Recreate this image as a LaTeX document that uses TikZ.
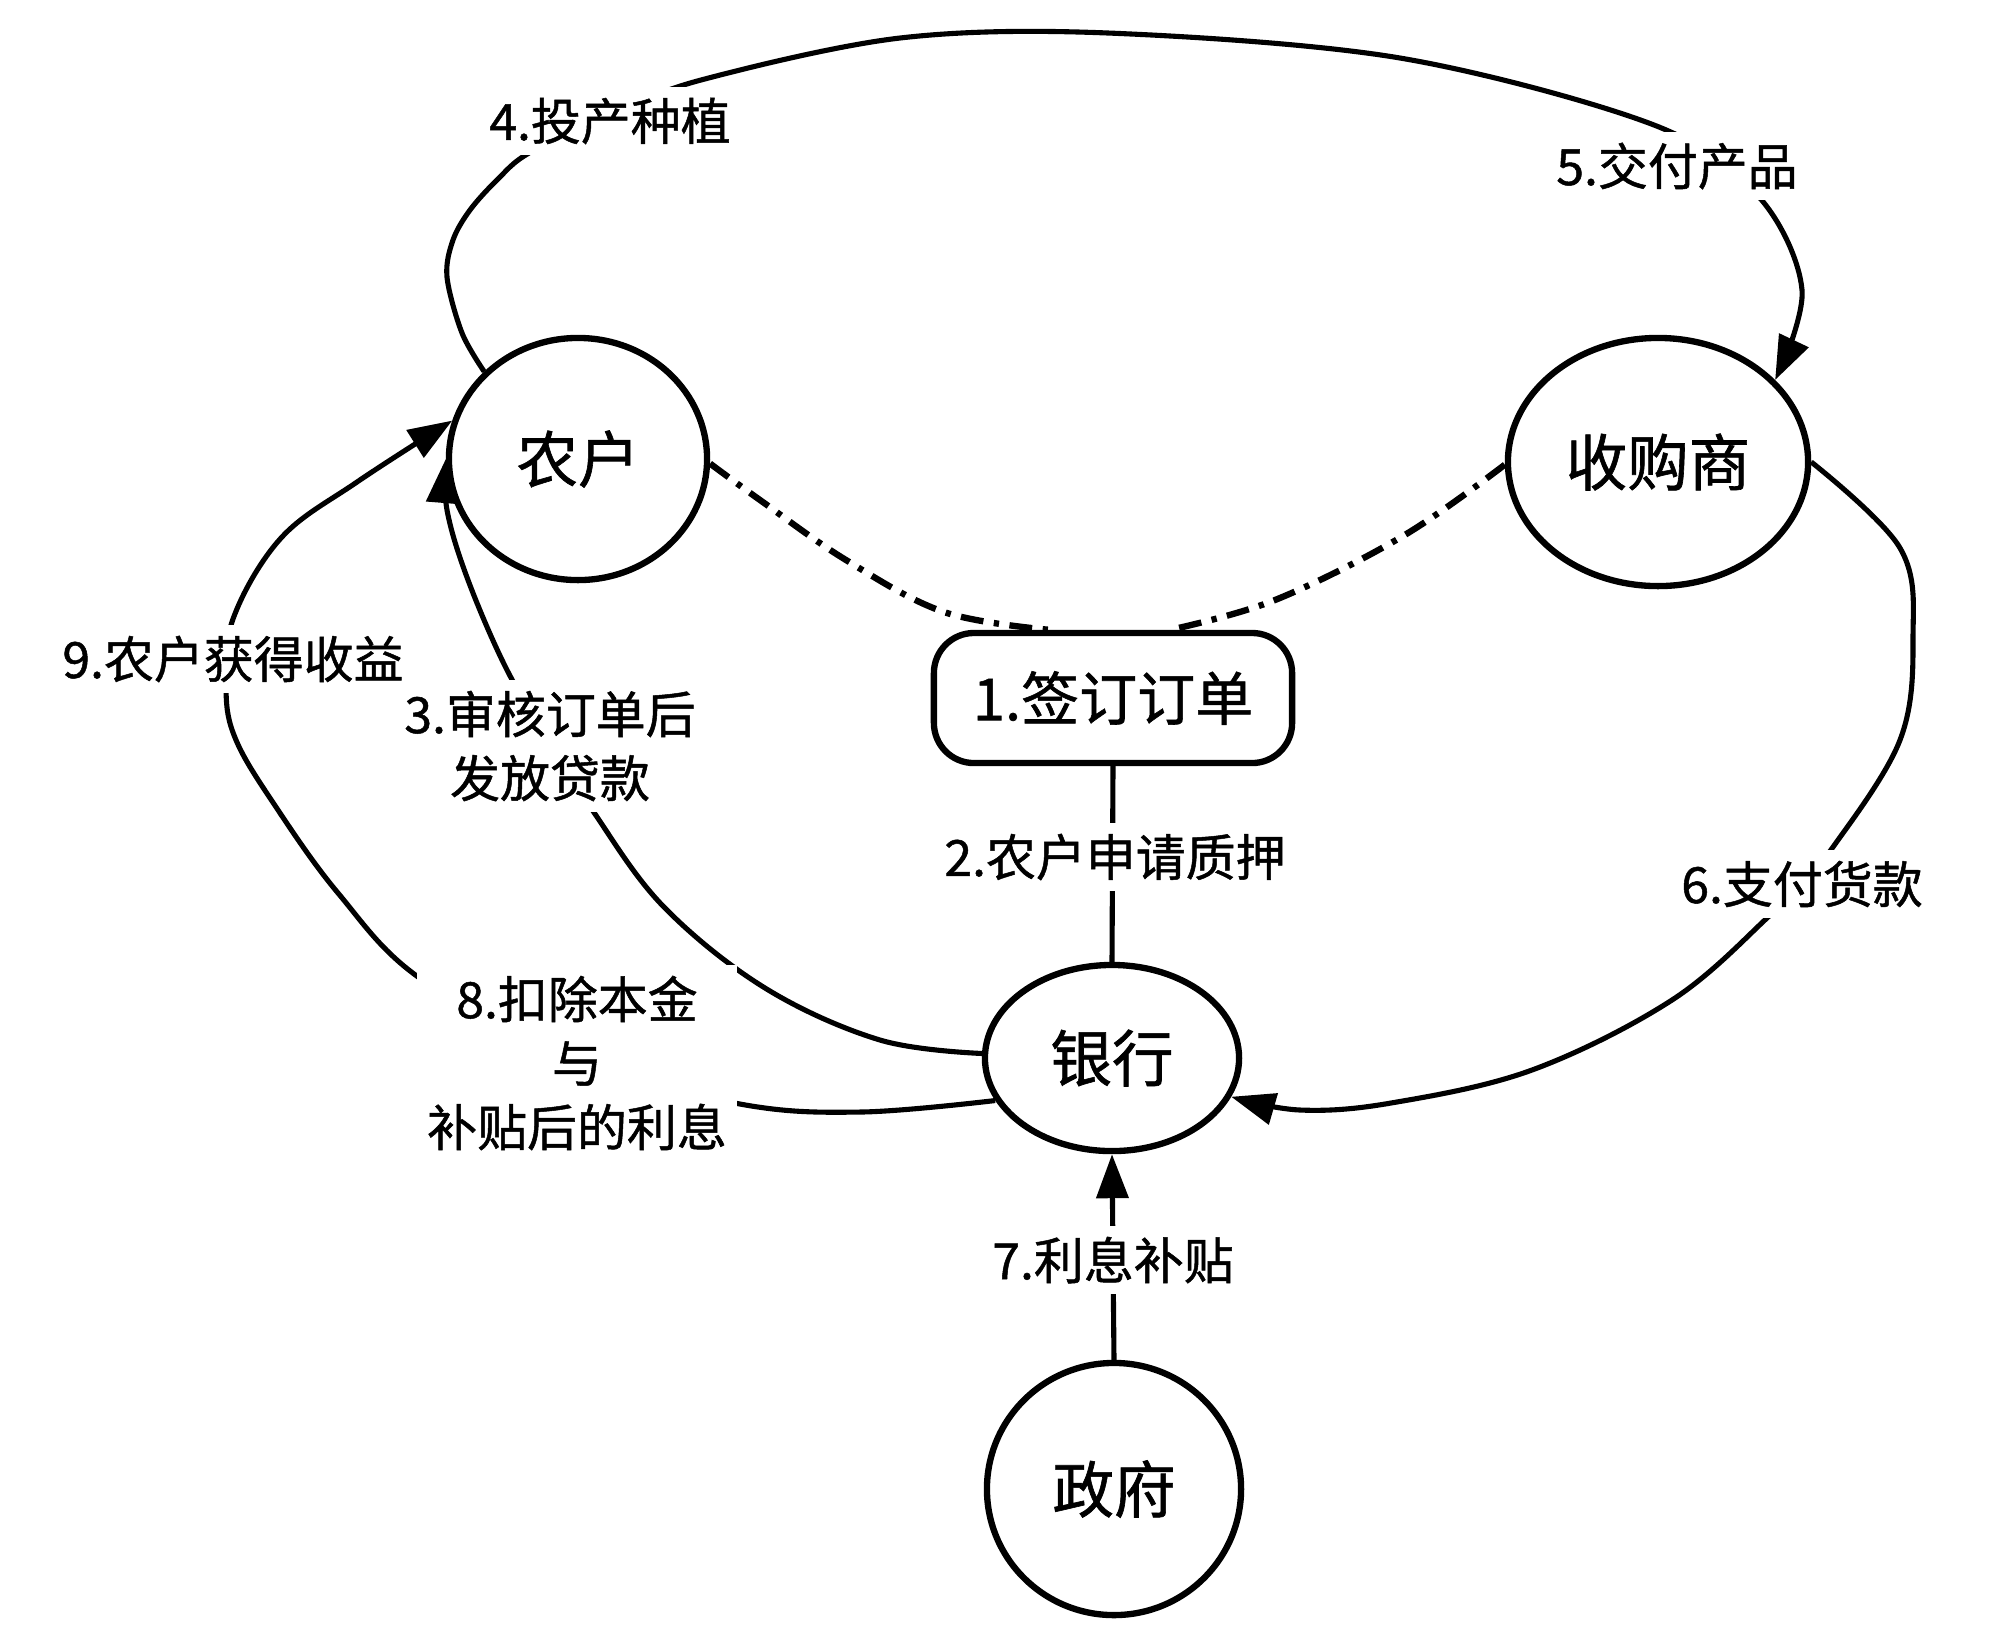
\documentclass[tikz,border=0pt]{standalone}
\usepackage{fontspec}
\setmainfont{Noto Sans CJK SC}[FakeBold=1.0]
\usetikzlibrary{shapes.geometric,arrows.meta}
\begin{document}
\begin{tikzpicture}[x=0.01cm,y=-0.01cm,
  ent/.style={ellipse,draw,line width=1.8pt,inner sep=0pt,font=\fontsize{17.5pt}{20pt}\selectfont},
  boxnode/.style={rectangle,rounded corners=0.4cm,draw,line width=1.8pt,inner sep=0pt,font=\fontsize{16.5pt}{20pt}\selectfont},
  lbl/.style={fill=white,inner sep=3pt,align=center,font=\fontsize{14.2pt}{18.2pt}\selectfont},
  conn/.style={line width=1.45pt},
  arr/.style={conn,-{Triangle[length=12.5pt,width=9pt]}},
  dd/.style={line width=1.8pt,dash pattern=on 6.5pt off 3pt on 1.5pt off 3pt}]
\useasboundingbox (0,0) rectangle (2000,1635);
% entities
\node[ent,minimum width=2.58cm,minimum height=2.42cm] (nonghu) at (578,459) {农户};
\node[ent,minimum width=3.00cm,minimum height=2.48cm] (shougou) at (1658,462) {收购商};
\node[boxnode,minimum width=3.58cm,minimum height=1.30cm] (dingdan) at (1113,698) {1.签订订单};
\node[ent,minimum width=2.54cm,minimum height=1.86cm] (yinhang) at (1112,1058) {银行};
\node[ent,minimum width=2.54cm,minimum height=2.52cm] (zhengfu) at (1114,1489) {政府};
% connectors
\draw[arr] plot[smooth,tension=0.55] coordinates {(nonghu.137) (462,333) (447,277) (453,240) (470,210) (497,180) (529,153) (610,115) (701,80) (900,38) (1108,33) (1400,58) (1654,125) (1759,197) (1802,290) (shougou.35)};
\draw[dd] plot[smooth,tension=0.6] coordinates {(nonghu.-2) (760,500) (846,560) (944,612) (dingdan.133)};
\draw[dd] plot[smooth,tension=0.6] coordinates {(shougou.181) (1403,536) (1275,600) (dingdan.50)};
\draw[conn] (dingdan.south) -- (yinhang.north);
\draw[arr] plot[smooth,tension=0.6] coordinates {(yinhang.178) (880,1040) (765,988) (663,906) (593,811) (550,742) (507,670) (468,580) (447,510) (nonghu.180)};
\draw[arr] plot[smooth,tension=0.6] coordinates {(yinhang.200) (861,1112) (740,1104) (577,1060) (421,979) (338,893) (274,804) (236,740) (226,690) (233,619) (281,538) (357,482) (nonghu.163)};
\draw[arr] plot[smooth,tension=0.6] coordinates {(shougou.0) (1900,548) (1913,638) (1900,740) (1833,847) (1800,882) (1767,918) (1672,1000) (1532,1070) (1391,1103) (1300,1110) (yinhang.-18)};
\draw[arr] (zhengfu.north) -- (yinhang.south);
% labels
\node[lbl] (l4) at (610,121) {4.投产种植};
\node[lbl] (l5) at (1677,166) {5.交付产品};
\node[lbl] (l2) at (1115,857) {2.农户申请质押};
\node[lbl] (l3) at (550,746) {3.审核订单后\\发放贷款};
\node[lbl] (l9) at (233,659) {9.农户获得收益};
\node[lbl] (l8) at (577,1063) {8.扣除本金\\与\\补贴后的利息};
\node[lbl] (l6) at (1802,884) {6.支付货款};
\node[lbl] (l7) at (1113,1260) {7.利息补贴};
\end{tikzpicture}
\end{document}
